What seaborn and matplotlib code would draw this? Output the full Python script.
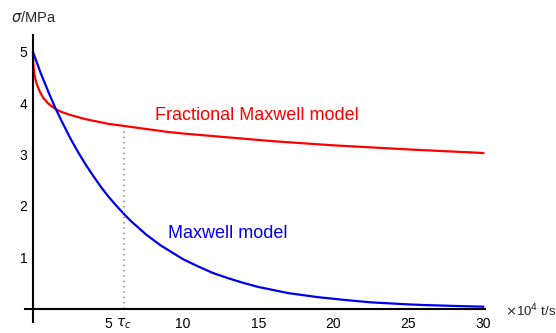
import numpy as np
import pandas as pd
import matplotlib
matplotlib.use("Agg")
import matplotlib.pyplot as plt
import seaborn as sns

# Data (t in 10^4 s, sigma in MPa)
t_frac = [0, 0.01, 0.02, 0.04, 0.06, 0.1, 0.14, 0.18, 0.25, 0.35, 0.5, 0.7, 0.85, 1.0, 1.25, 1.5, 1.75, 2.0, 2.5, 3.0, 3.5, 4.0, 5.0, 6.0, 7.0, 8.0, 9.0, 10.0, 12.0, 14.0, 16.0, 18.0, 20.0, 22.5, 25.0, 27.5, 30.0]
s_frac = [5.0, 4.86, 4.8, 4.71, 4.65, 4.56, 4.5, 4.45, 4.38, 4.3, 4.2, 4.1, 4.05, 4.0, 3.94, 3.89, 3.85, 3.82, 3.77, 3.73, 3.69, 3.66, 3.6, 3.56, 3.52, 3.48, 3.44, 3.41, 3.36, 3.31, 3.26, 3.22, 3.18, 3.14, 3.1, 3.065, 3.03]
t_max = [0, 0.5, 1, 1.5, 2, 2.5, 3, 3.5, 4, 4.5, 5, 5.5, 6, 6.5, 7, 7.5, 8, 8.5, 9, 9.5, 10, 11, 12, 13, 14, 15, 16, 17, 18, 19, 20, 21, 22.5, 24, 25, 26, 27.5, 29, 30]
s_max = [5.0, 4.6, 4.24, 3.9, 3.6, 3.31, 3.05, 2.81, 2.59, 2.38, 2.19, 2.02, 1.86, 1.71, 1.58, 1.45, 1.34, 1.23, 1.14, 1.05, 0.96, 0.82, 0.69, 0.59, 0.5, 0.42, 0.36, 0.30, 0.26, 0.22, 0.19, 0.16, 0.12, 0.096, 0.08, 0.068, 0.055, 0.042, 0.036]
tau_c = 6.07
tau_top = 3.45
x_ticks = [5, 10, 15, 20, 25, 30]
y_ticks = [1, 2, 3, 4, 5]

df = pd.concat([
    pd.DataFrame({"t": t_frac, "sigma": s_frac, "model": "Fractional Maxwell model"}),
    pd.DataFrame({"t": t_max, "sigma": s_max, "model": "Maxwell model"}),
])

sns.set_style("white")
plt.rcParams["font.family"] = ["Liberation Sans", "DejaVu Sans"]

W, H = 556, 333
fig = plt.figure(figsize=(W / 100, H / 100), dpi=100)
ax = fig.add_axes([25 / W, (H - 322) / H, (485 - 25) / W, (322 - 35) / H])

sns.lineplot(data=df, x="t", y="sigma", hue="model",
             palette={"Fractional Maxwell model": "#ff0000", "Maxwell model": "#0000ee"},
             linewidth=1.6, legend=False, ax=ax, sort=False)

ax.plot([tau_c, tau_c], [0, tau_top], linestyle=(0, (1, 2.2)), color="#999999", linewidth=1.2)

ax.set_xlim(-0.53, 30.1)
ax.set_ylim(-0.263, 5.33)

for side in ["top", "right"]:
    ax.spines[side].set_visible(False)
ax.spines["left"].set_position(("data", 0))
ax.spines["bottom"].set_position(("data", 0))
for side in ["left", "bottom"]:
    ax.spines[side].set_linewidth(1.5)
    ax.spines[side].set_color("black")

ax.set_xticks(x_ticks + [tau_c])
ax.set_xticklabels([str(v) for v in x_ticks] + [r"$\tau_c$"])
ax.set_yticks(y_ticks)
ax.set_yticklabels([str(v) for v in y_ticks])
ax.tick_params(axis="both", direction="in", length=5, width=1.5, labelsize=10, colors="black")
ax.tick_params(axis="x", pad=6)
ax.tick_params(axis="y", pad=4)
ax.set_xlabel("")
ax.set_ylabel("")

fig.text(155 / W, 1 - 115 / H, "Fractional Maxwell model", color="#ff0000", fontsize=13, va="center", ha="left")
fig.text(168 / W, 1 - 233 / H, "Maxwell model", color="#0000ee", fontsize=13, va="center", ha="left")
fig.text(11 / W, 1 - 17 / H, r"$\sigma$/MPa", fontsize=10.5, va="center", ha="left")
fig.text(505 / W, 1 - 311 / H, r"$\times$10$^4$ t/s", fontsize=9.5, va="center", ha="left")

fig.savefig("out.png", dpi=100)
